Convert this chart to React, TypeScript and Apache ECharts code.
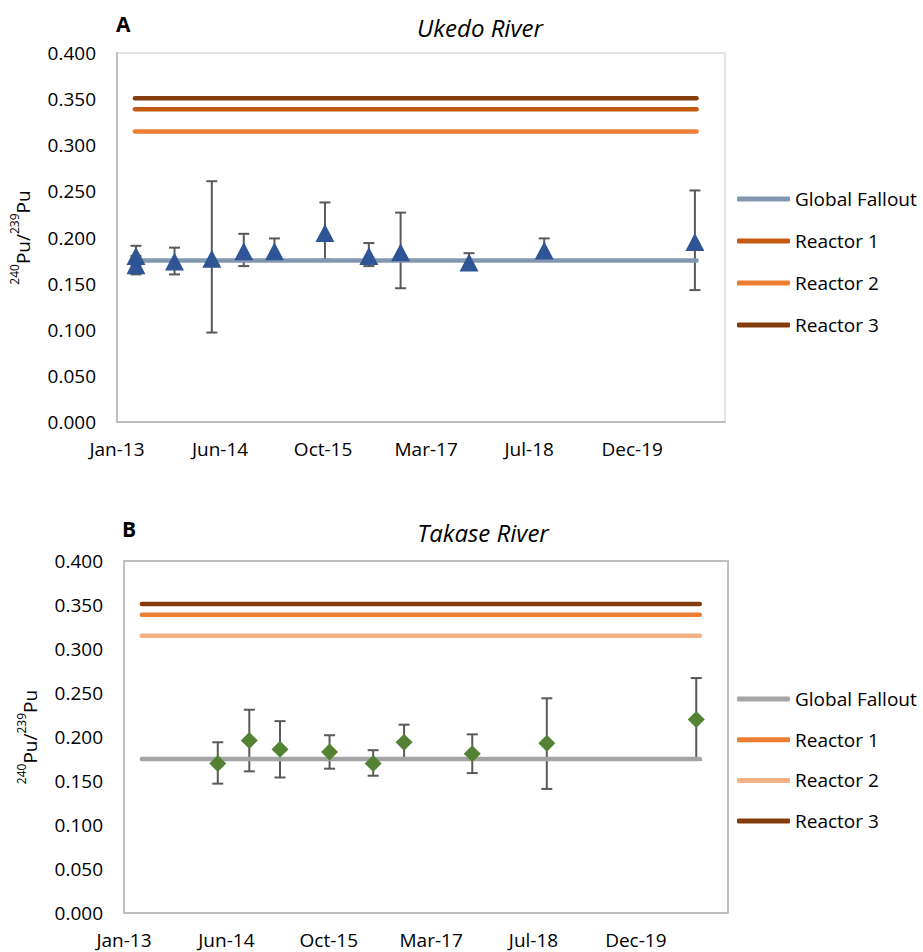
import React, { useEffect, useRef } from "react";
import * as echarts from "echarts";

// ---- data ----
const xTickLabels = ["Jan-13", "Jun-14", "Oct-15", "Mar-17", "Jul-18", "Dec-19"];
const xTickStep = 500; // days between ticks
const xMax = 2950;

const ukedoDays = [92, 92, 279, 460, 615, 764, 1009, 1222, 1376, 1708, 2073, 2804];
const ukedoRatio = [0.18, 0.17, 0.174, 0.177, 0.185, 0.185, 0.205, 0.18, 0.184, 0.173, 0.186, 0.195];
const ukedoLow = [0.17, 0.16, 0.16, 0.097, 0.169, 0.177, 0.176, 0.169, 0.145, 0.165, 0.176, 0.143];
const ukedoHigh = [0.191, 0.18, 0.189, 0.261, 0.204, 0.199, 0.238, 0.194, 0.227, 0.183, 0.199, 0.251];

const takaseDays = [458, 612, 762, 1004, 1217, 1368, 1701, 2065, 2795];
const takaseRatio = [0.17, 0.196, 0.186, 0.183, 0.17, 0.194, 0.181, 0.193, 0.22];
const takaseLow = [0.147, 0.161, 0.154, 0.164, 0.156, 0.176, 0.159, 0.141, 0.174];
const takaseHigh = [0.194, 0.231, 0.218, 0.202, 0.185, 0.214, 0.203, 0.244, 0.267];

const refStartDay = 87;
const refEndDay = 2812;
const refNames = ["Global Fallout", "Reactor 1", "Reactor 2", "Reactor 3"];
const refValues = [0.175, 0.339, 0.315, 0.351];

const ukedoRefColors = ["#8497B0", "#C55A11", "#ED7D31", "#843C0C"];
const takaseRefColors = ["#A5A5A5", "#ED7D31", "#F4B183", "#843C0C"];

const FONT = "Open Sans";

function buildOption(cfg: {
  letter: string;
  title: string;
  letterX: number;
  titleX: number;
  titleY: number;
  grid: { left: number; top: number; width: number; height: number };
  frameColor: string;
  axisColor: string;
  refColors: string[];
  days: number[];
  ratio: number[];
  low: number[];
  high: number[];
  symbol: string;
  symbolSize: number | number[];
  markerColor: string;
  legendTop: number;
  legendGap: number;
}) {
  const refSeries = refNames.map((name, i) => ({
    name,
    type: "line",
    data: [
      [refStartDay, refValues[i]],
      [refEndDay, refValues[i]],
    ],
    symbol: "none",
    z: 2,
    lineStyle: { color: cfg.refColors[i], width: 4.5, cap: "round" },
    itemStyle: { color: cfg.refColors[i] },
    silent: true,
  }));

  return {
    animation: false,
    backgroundColor: "#ffffff",
    textStyle: { fontFamily: FONT },
    grid: { ...cfg.grid, show: true, borderColor: cfg.frameColor, borderWidth: 2, containLabel: false },
    graphic: [
      {
        type: "text",
        left: cfg.letterX - 10,
        top: cfg.titleY - 14,
        style: { text: cfg.letter, font: `bold 21px "${FONT}"`, fill: "#000" },
      },
      {
        type: "text",
        x: cfg.titleX,
        y: cfg.titleY,
        style: {
          text: cfg.title,
          font: `italic 24px "${FONT}"`,
          fill: "#000",
          align: "center",
          verticalAlign: "middle",
        },
      },
    ],
    legend: {
      data: refNames,
      orient: "vertical",
      left: 732,
      top: cfg.legendTop,
      icon: "roundRect",
      itemWidth: 53,
      itemHeight: 5,
      itemGap: cfg.legendGap,
      textStyle: { fontFamily: FONT, fontSize: 19, color: "#000", lineHeight: 20 },
      selectedMode: false,
    },
    xAxis: {
      type: "value",
      min: 0,
      max: xMax,
      interval: xTickStep,
      splitLine: { show: false },
      axisTick: { show: false },
      axisLine: { show: true, lineStyle: { color: cfg.axisColor, width: 2 } },
      axisLabel: {
        margin: 17,
        fontFamily: FONT,
        fontSize: 19,
        color: "#000",
        showMaxLabel: false,
        formatter: (v: number) => {
          const idx = Math.round(v / xTickStep);
          return Math.abs(v - idx * xTickStep) < 1 ? xTickLabels[idx] ?? "" : "";
        },
      },
    },
    yAxis: {
      type: "value",
      min: 0,
      max: 0.4,
      interval: 0.05,
      splitLine: { show: false },
      axisTick: { show: false },
      axisLine: { show: true, lineStyle: { color: cfg.axisColor, width: 2 } },
      axisLabel: {
        margin: 21,
        fontFamily: FONT,
        fontSize: 19,
        color: "#000",
        formatter: (v: number) => v.toFixed(3),
      },
      name: "{sup|240}{n|Pu/}{sup|239}{n|Pu}",
      nameLocation: "middle",
      nameGap: 85,
      nameTextStyle: {
        rich: {
          n: { fontFamily: FONT, fontSize: 19, color: "#000", lineHeight: 24, verticalAlign: "bottom" },
          sup: { fontFamily: FONT, fontSize: 12, color: "#000", lineHeight: 12, verticalAlign: "top" },
        },
      },
    },
    series: [
      {
        name: "errors",
        type: "custom",
        z: 1,
        silent: true,
        data: cfg.days.map((d, i) => [d, cfg.low[i], cfg.high[i]]),
        encode: { x: 0, y: [1, 2] },
        renderItem: (_params: any, api: any) => {
          const x = api.value(0);
          const lo = api.coord([x, api.value(1)]);
          const hi = api.coord([x, api.value(2)]);
          const half = 5.5;
          const style = { stroke: "#595959", lineWidth: 2, fill: "none" };
          return {
            type: "group",
            children: [
              { type: "line", shape: { x1: lo[0], y1: lo[1], x2: hi[0], y2: hi[1] }, style },
              { type: "line", shape: { x1: hi[0] - half, y1: hi[1], x2: hi[0] + half, y2: hi[1] }, style },
              { type: "line", shape: { x1: lo[0] - half, y1: lo[1], x2: lo[0] + half, y2: lo[1] }, style },
            ],
          };
        },
      },
      ...refSeries,
      {
        name: "samples",
        type: "scatter",
        z: 3,
        symbol: cfg.symbol,
        symbolSize: cfg.symbolSize,
        itemStyle: { color: cfg.markerColor, opacity: 1 },
        data: cfg.days.map((d, i) => [d, cfg.ratio[i]]),
      },
    ],
  };
}

export default function App() {
  const refA = useRef<HTMLDivElement>(null);
  const refB = useRef<HTMLDivElement>(null);

  useEffect(() => {
    const chartA = echarts.init(refA.current!, undefined, { renderer: "svg" });
    const chartB = echarts.init(refB.current!, undefined, { renderer: "svg" });

    chartA.setOption(
      buildOption({
        letter: "A",
        title: "Ukedo River",
        letterX: 126,
        titleX: 480,
        titleY: 27,
        grid: { left: 114, top: 53, width: 611, height: 369 },
        frameColor: "#E4E4E4",
        axisColor: "#BFBFBF",
        refColors: ukedoRefColors,
        days: ukedoDays,
        ratio: ukedoRatio,
        low: ukedoLow,
        high: ukedoHigh,
        symbol: "triangle",
        symbolSize: [19, 18],
        markerColor: "#2F5597",
        legendTop: 184,
        legendGap: 22,
      }) as any
    );

    chartB.setOption(
      buildOption({
        letter: "B",
        title: "Takase River",
        letterX: 132,
        titleX: 483,
        titleY: 56,
        grid: { left: 124, top: 85, width: 604, height: 352 },
        frameColor: "#BFBFBF",
        axisColor: "#BFBFBF",
        refColors: takaseRefColors,
        days: takaseDays,
        ratio: takaseRatio,
        low: takaseLow,
        high: takaseHigh,
        symbol: "diamond",
        symbolSize: 17,
        markerColor: "#548235",
        legendTop: 208,
        legendGap: 20.7,
      }) as any
    );

    return () => {
      chartA.dispose();
      chartB.dispose();
    };
  }, []);

  return (
    <div style={{ position: "fixed", left: 0, top: 0, width: 923, height: 952, background: "#fff" }}>
      <div ref={refA} style={{ position: "absolute", left: 0, top: 0, width: 923, height: 476 }} />
      <div ref={refB} style={{ position: "absolute", left: 0, top: 476, width: 923, height: 476 }} />
    </div>
  );
}
